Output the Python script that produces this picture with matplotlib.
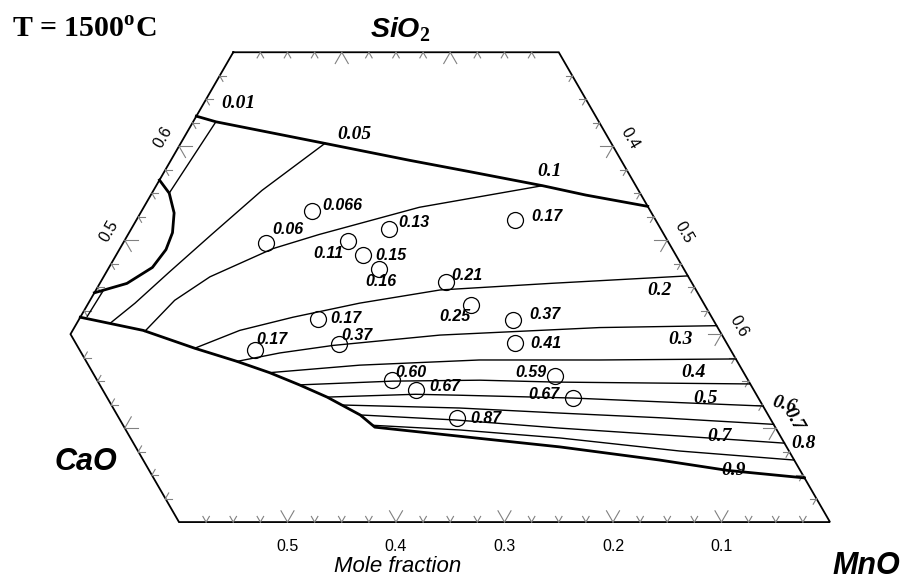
"""
CaO-SiO2-MnO section at 1500 C: iso-activity lines of MnO in the liquid
with measured points. Saves out.png.
"""

import numpy as np
import matplotlib
matplotlib.use("Agg")
import matplotlib.pyplot as plt

plt.rcParams["mathtext.fontset"] = "custom"
plt.rcParams["mathtext.rm"] = "Liberation Serif:bold"
plt.rcParams["mathtext.it"] = "Liberation Sans:italic:bold"

# every composition is (x_SiO2, x_CaO); x_MnO = 1 - x_SiO2 - x_CaO
frame = [(0.7, 0.3), (0.7, 0.0), (0.2, 0.0), (0.2, 0.6), (0.4, 0.6), (0.7, 0.3)]

# saturation boundaries (thick)
silica_sat = [(0.632, 0.368), (0.626, 0.353), (0.603, 0.264), (0.585, 0.195),
              (0.573, 0.146), (0.558, 0.086), (0.548, 0.051), (0.536, 0.0)]
cs_sat = [(0.564, 0.436), (0.550, 0.434), (0.529, 0.440), (0.508, 0.452),
          (0.490, 0.467), (0.471, 0.489), (0.454, 0.521), (0.444, 0.556)]
c2s_mno_sat = [(0.418, 0.582), (0.404, 0.531), (0.385, 0.493), (0.371, 0.461),
               (0.359, 0.437), (0.346, 0.416), (0.333, 0.397), (0.314, 0.376),
               (0.301, 0.369), (0.289, 0.278), (0.280, 0.209), (0.266, 0.124),
               (0.255, 0.067), (0.247, 0.0)]

# iso-activity lines (thin)
iso_001a = [(0.626, 0.353), (0.551, 0.433)]
iso_001b = [(0.446, 0.547), (0.419, 0.575)]
iso_005 = [(0.603, 0.264), (0.553, 0.347), (0.506, 0.417), (0.466, 0.476),
           (0.433, 0.524), (0.412, 0.557)]
iso_01 = [(0.558, 0.086), (0.535, 0.211), (0.506, 0.318), (0.491, 0.368),
          (0.461, 0.441), (0.436, 0.486), (0.403, 0.530)]
iso_02 = [(0.385, 0.493), (0.404, 0.442), (0.418, 0.386), (0.433, 0.317),
          (0.447, 0.236), (0.454, 0.131), (0.462, 0.0)]
iso_03 = [(0.371, 0.461), (0.380, 0.417), (0.388, 0.364), (0.399, 0.260),
          (0.407, 0.109), (0.409, 0.0)]
iso_04 = [(0.359, 0.437), (0.367, 0.350), (0.3725, 0.237), (0.3725, 0.126),
          (0.3736, 0.0)]
iso_05 = [(0.346, 0.416), (0.350, 0.328), (0.351, 0.247), (0.349, 0.179),
          (0.348, 0.092), (0.347, 0.0)]
iso_06 = [(0.333, 0.397), (0.336, 0.314), (0.335, 0.274), (0.332, 0.171),
          (0.328, 0.093), (0.3235, 0.0)]
iso_07 = [(0.3246, 0.388), (0.3214, 0.281), (0.316, 0.191), (0.311, 0.101),
          (0.304, 0.0)]
iso_08 = [(0.314, 0.376), (0.3086, 0.290), (0.300, 0.199), (0.2916, 0.093),
          (0.284, 0.0)]
iso_09 = [(0.303, 0.370), (0.298, 0.292), (0.2895, 0.204), (0.2756, 0.1006),
          (0.266, 0.0)]

iso_text = ["0.01", "0.05", "0.1", "0.2", "0.3", "0.4", "0.5", "0.6", "0.7",
            "0.8", "0.7", "0.9"]
iso_text_at = [(0.645, 0.323), (0.612, 0.2324), (0.5736, 0.0718), (0.446, 0.034),
               (0.3938, 0.0407), (0.3587, 0.0463), (0.331, 0.049),
               (0.3246, -0.0206), (0.3097, -0.0206), (0.2831, -0.0174),
               (0.2916, 0.0558), (0.2554, 0.0609)]
iso_text_rot = [0, 0, 0, 0, 0, 0, 0, -15, -60, 0, 0, 0]

# measured slags and their MnO activities
pt_si = [0.497, 0.531, 0.499, 0.512, 0.484, 0.469, 0.5215, 0.4555, 0.431, 0.416,
         0.3895, 0.383, 0.415, 0.3906, 0.351, 0.3406, 0.3555, 0.332, 0.311]
pt_ca = [0.371, 0.312, 0.295, 0.250, 0.288, 0.281, 0.130, 0.2265, 0.215, 0.364,
         0.358, 0.438, 0.185, 0.195, 0.328, 0.3115, 0.176, 0.171, 0.2886]
pt_text = ["0.06", "0.066", "0.11", "0.13", "0.15", "0.16", "0.17", "0.21",
           "0.25", "0.17", "0.37", "0.17", "0.37", "0.41", "0.60", "0.67",
           "0.59", "0.67", "0.87"]
# where each activity label sits relative to its circle (pixels)
pt_text_off = [(22, 14), (30, 6), (-19, -12), (24, 6), (27, 0), (2, -12),
               (32, 3), (21, 6), (-17, -11), (28, 1), (18, 9), (16, 11),
               (32, 6), (31, -1), (19, 8), (29, 3), (-24, 3), (-29, 4), (29, -1)]

bottom_ticks = [0.5, 0.4, 0.3, 0.2, 0.1]   # x_CaO along SiO2 = 0.2
left_ticks = [0.6, 0.5]                    # x_SiO2 along MnO = 0
right_ticks = [0.4, 0.5, 0.6]              # x_MnO along CaO = 0

W, H = 904, 580
SCALE, X0, Y0 = 1085.0, -146.5, 710.0      # triangle side in px, origin


def tern(si, ca):
    si = np.asarray(si, dtype=float)
    ca = np.asarray(ca, dtype=float)
    return 1.0 - ca - si / 2.0, si * np.sqrt(3) / 2.0


def xy(pairs):
    a = np.array(pairs, dtype=float)
    return tern(a[:, 0], a[:, 1])


def main():
    fig = plt.figure(figsize=(W / 100, H / 100), dpi=100)
    ax = fig.add_axes([0, 0, 1, 1])
    ax.set_xlim(-X0 / SCALE, (W - X0) / SCALE)
    ax.set_ylim((Y0 - H) / SCALE, Y0 / SCALE)
    ax.set_axis_off()

    x, y = xy(frame)
    ax.plot(x, y, color="k", lw=1.3, solid_joinstyle="miter")

    # ternary ticks: short legs along the two other grid directions,
    # corners left bare
    tick_col = "#808080"
    edges = [
        (lambda v: (0.7, v), np.arange(0.025, 0.2751, 0.025), [(-1, 0), (-1, 1)]),
        (lambda v: (0.2, v), np.arange(0.025, 0.5751, 0.025), [(1, 0), (1, -1)]),
        (lambda v: (v, 1 - v), np.arange(0.425, 0.6751, 0.025), [(0, -1), (-1, 0)]),
        (lambda v: (v, 0.0), np.arange(0.225, 0.6751, 0.025), [(0, 1), (-1, 1)]),
        (lambda v: (v, 0.6), np.arange(0.225, 0.3751, 0.025), [(0, -1), (1, -1)]),
    ]
    for point, vals, legs in edges:
        for v in vals:
            major = abs(v * 10 - round(v * 10)) < 1e-6
            d = 0.012 if major else 0.006
            si, ca = point(v)
            x0, y0 = tern(si, ca)
            for dsi, dca in legs:
                x1, y1 = tern(si + dsi * d, ca + dca * d)
                ax.plot([x0, x1], [y0, y1], color=tick_col, lw=0.8)

    for line in (silica_sat, cs_sat, c2s_mno_sat):
        x, y = xy(line)
        ax.plot(x, y, color="k", lw=2.0)
    for line in (iso_001a, iso_001b, iso_005, iso_01, iso_02, iso_03, iso_04,
                 iso_05, iso_06, iso_07, iso_08, iso_09):
        x, y = xy(line)
        ax.plot(x, y, color="k", lw=1.0)

    for txt, (si, ca), rot in zip(iso_text, iso_text_at, iso_text_rot):
        tx, ty = tern(si, ca)
        ax.text(tx, ty, txt, ha="center", va="center", rotation=rot,
                family="Liberation Serif", fontweight="bold", fontstyle="italic",
                fontsize=14)

    px, py = tern(pt_si, pt_ca)
    ax.plot(px, py, "o", mfc="none", mec="k", ms=11.5, mew=0.9)
    for xi, yi, txt, off in zip(px, py, pt_text, pt_text_off):
        ax.annotate(txt, (xi, yi), xytext=off, textcoords="offset pixels",
                    ha="center", va="center", family="Liberation Sans",
                    fontweight="bold", fontstyle="italic", fontsize=11.5)

    tick_font = dict(family="Liberation Sans", fontsize=11.5, ha="center",
                     va="center")
    for v in bottom_ticks:
        ax.annotate(f"{v:.1f}", tern(0.2, v), xytext=(0, -24),
                    textcoords="offset pixels", **tick_font)
    for v in left_ticks:
        ax.annotate(f"{v:.1f}", tern(v, 1 - v), xytext=(-16, 9),
                    textcoords="offset pixels", rotation=60, **tick_font)
    for v in right_ticks:
        ax.annotate(f"{v:.1f}", tern(1 - v, 0.0), xytext=(17, 8),
                    textcoords="offset pixels", rotation=-60, **tick_font)

    def ftext(x_px, y_px, s, **kw):
        fig.text(x_px / W, 1 - y_px / H, s, **kw)

    ftext(398, 566, "Mole fraction", ha="center", va="center",
          family="Liberation Sans", fontstyle="italic", fontsize=16)
    comp = dict(family="Liberation Sans", fontweight="bold", fontstyle="italic",
                ha="center", va="baseline")
    ftext(400, 38, "SiO$_\\mathit{2}$", fontsize=20.5, **comp)
    ftext(86, 470, "CaO", fontsize=22, **comp)
    ftext(866, 574, "MnO", fontsize=22, **comp)
    ftext(12, 37, "T = 1500$^\\mathrm{o}$C", ha="left", va="baseline",
          family="Liberation Serif", fontweight="bold", fontsize=21.5)

    fig.savefig("out.png", dpi=100)
    plt.close(fig)


if __name__ == "__main__":
    main()
